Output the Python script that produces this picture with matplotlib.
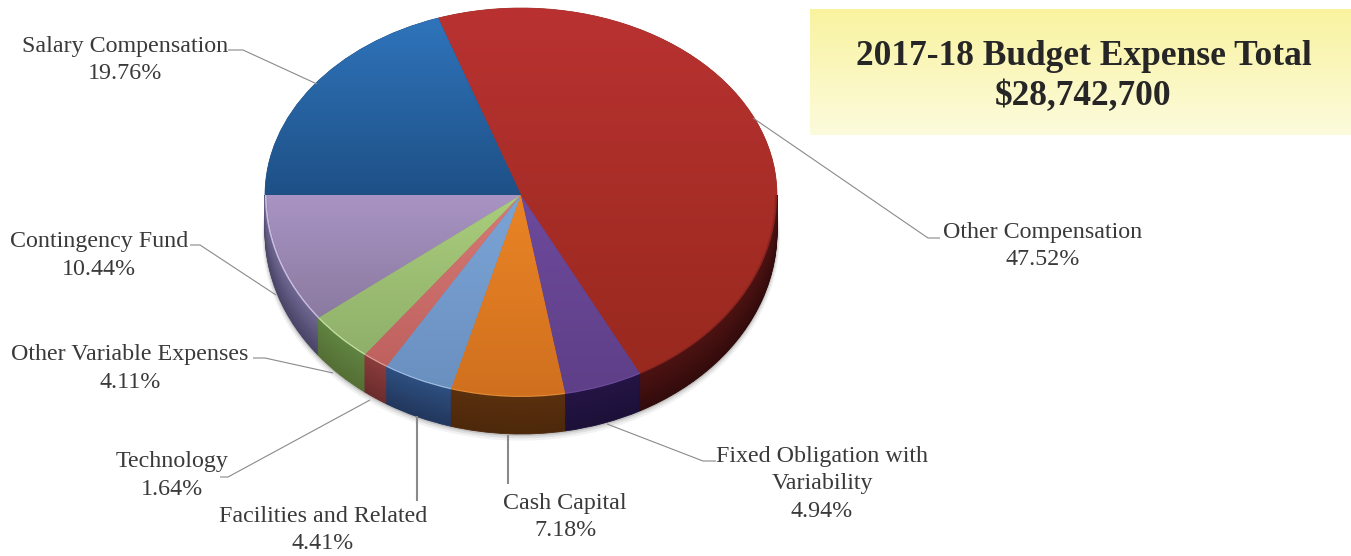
import numpy as np
import matplotlib
matplotlib.use("Agg")
import matplotlib.pyplot as plt
from matplotlib.colors import to_rgb, LinearSegmentedColormap

W, H = 1351, 556
categories = ["Contingency Fund", "Other Variable Expenses", "Technology",
              "Facilities and Related", "Cash Capital",
              "Fixed Obligation with\nVariability", "Other Compensation",
              "Salary Compensation"]
shares = [10.44, 4.11, 1.64, 4.41, 7.18, 4.94, 47.52, 19.76]
top_light = ["#a994c4", "#aacd7c", "#d67a76", "#7ba4d6", "#ea8425", "#6d4a9c", "#b93231", "#2f74bb"]
top_dark = ["#8b7aa0", "#8fb06a", "#bf625f", "#6a90c0", "#d0701f", "#5f3f88", "#99291f", "#1e5086"]
rim_cols = ["#c9bde0", "#c5dda0", "#dd9a96", "#9dbbe0", "#e08a35", "#6d4a9c", "#8a2420", "#1e5086"]
side_light = ["#6f6790", "#5f8440", "#8a3c3c", "#2d4f80", "#5a300e", "#241445", "#4d1212", "#1d4f82"]
side_dark = ["#4a4468", "#556f35", "#6c2c2c", "#22375d", "#4d280a", "#1c1038", "#330b0b", "#1d4f82"]

title_lines = "2017-18 Budget Expense Total\n$28,742,700"
label_xy = [(99, 255.5), (130, 368.5), (172, 475.5), (323, 530), (565, 517), (822, 484), (1043, 246), (125, 60)]
leaders = [[(190, 245), (200, 245), (276, 295)],
           [(253, 358), (265, 358), (333, 373)],
           [(220, 477), (228, 477), (370, 400)],
           [(417, 416), (417, 501)],
           [(508, 435), (508, 484)],
           [(607, 424), (703, 461), (716, 461)],
           [(753, 118), (928, 238), (940, 238)],
           [(228, 50), (243, 50), (317, 84)]]

fig = plt.figure(figsize=(W / 100, H / 100), dpi=100, facecolor="white")
cx, cy, rx = 521, 195, 256
ry_up, ry_down = 187, 202
depth = 37

bg = fig.add_axes([0, 0, 1, 1], zorder=0)
bg.axis("off")
grad = np.linspace(0, 1, 128)[:, None]
bg.imshow(grad, extent=(810, W, 135, 9), aspect="auto", zorder=1,
          cmap=LinearSegmentedColormap.from_list("b", ["#f9f3a0", "#fcfbdc"]))
bg.set_xlim(0, W); bg.set_ylim(H, 0)

start = 180
xpad = 1.03


def seal(ws, cols, lw=0.6):
    for w, c in zip(ws, cols):
        w.set_edgecolor(c)
        w.set_linewidth(lw)


def half_axes(y0, y1, ry):
    """Axes with unit pie radius mapped to rx and ry; y0..y1 in data units."""
    px_bottom = cy - y0 * ry
    px_top = cy - y1 * ry
    a = fig.add_axes([(cx - xpad * rx) / W, 1 - px_bottom / H, 2 * xpad * rx / W,
                      (px_bottom - px_top) / H], zorder=1)
    a.axis("off")
    return a, (y0, y1)


def top_face(a, rim):
    if rim:
        ws, _ = a.pie(shares, colors=rim_cols, radius=1.0, startangle=start, frame=False,
                      wedgeprops=dict(linewidth=0))
    wedges, _ = a.pie(shares, colors=top_dark, radius=0.992 if rim else 1.0, startangle=start,
                      frame=False)
    seal(wedges, top_dark, 0.5)
    for w, c0, c1 in zip(wedges, top_light, top_dark):
        box = w.get_path().get_extents()
        cm = LinearSegmentedColormap.from_list("g", [c0, c1])
        im = a.imshow(np.linspace(1, 0, 256)[:, None], extent=(-1, 1, box.y0, box.y1),
                      origin="lower", cmap=cm, aspect="auto", zorder=3)
        im.set_clip_path(w)


def finish(a, lims):
    a.set_aspect("auto")
    a.set_xlim(-xpad, xpad)
    a.set_ylim(*lims)
    for c in a.patches:
        c.set_clip_on(True)


# upper half of the disc (flatter, as the perspective of the picture has it)
up, up_lim = half_axes(0, 1.03, ry_up)
top_face(up, rim=False)
finish(up, up_lim)

# lower half with the extruded side
d = depth / ry_down
low, low_lim = half_axes(-1 - d - 0.06, 0, ry_down)
for s, a_ in [(0.022, 0.05), (0.014, 0.08), (0.007, 0.12)]:
    low.pie([1], colors=["black"], center=(0, -d - s), radius=1.0 + s / 2, startangle=0,
            wedgeprops=dict(alpha=a_, linewidth=0), frame=False)
for t in np.linspace(1, 0, 40):
    cols = [tuple((1 - t) * np.array(to_rgb(p)) + t * np.array(to_rgb(q)))
            for p, q in zip(side_light, side_dark)]
    ws, _ = low.pie(shares, colors=cols, center=(0, -d * t), radius=1.0, startangle=start, frame=False)
    seal(ws, cols)
top_face(low, rim=True)
finish(low, low_lim)

fg = fig.add_axes([0, 0, 1, 1], zorder=2)
fg.set_xlim(0, W); fg.set_ylim(H, 0); fg.axis("off"); fg.patch.set_alpha(0)
serif = "Liberation Serif"
for name, share, (x, y), path in zip(categories, shares, label_xy, leaders):
    fg.text(x, y, f"{name}\n{share:.2f}%", ha="center", va="center", family=serif,
            fontsize=17.3, color="#3a3a3a", linespacing=1.42)
    xs, ys = zip(*path)
    fg.plot(xs, ys, color="#8a8a8a", lw=0.8 if len(path) > 2 else 1.5, solid_capstyle="butt")
fg.text(1083.5, 76.5, title_lines, ha="center", va="center", family=serif, weight="bold",
        fontsize=25.5, color="#262626", linespacing=1.27)

fig.savefig("out.png", dpi=100)
